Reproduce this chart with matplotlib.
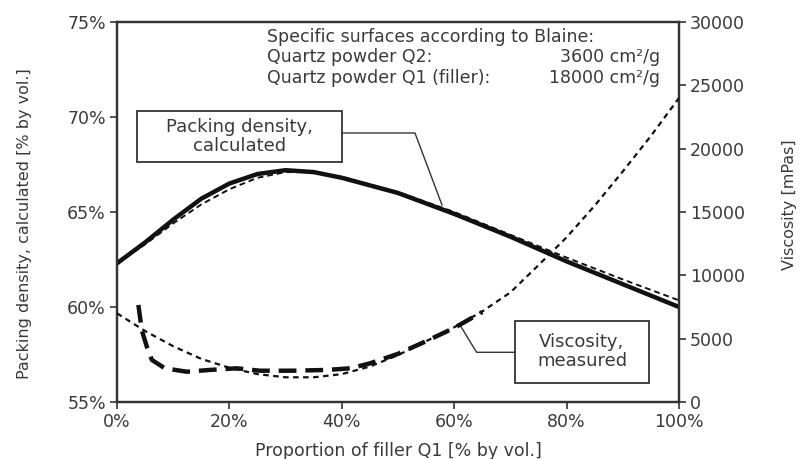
import matplotlib
matplotlib.use("Agg")
import matplotlib.pyplot as plt
from matplotlib.patches import Rectangle

plt.rcParams['font.family'] = ['DejaVu Sans']

# ---- data ----
pack_x = [0, 5, 10, 15, 20, 25, 30, 35, 40, 50, 60, 70, 80, 90, 100]
pack_calc = [62.3, 63.4, 64.6, 65.7, 66.5, 67.0, 67.2, 67.1, 66.8, 66.0, 64.9, 63.7, 62.4, 61.2, 60.0]
pack_fit_x = [0, 5, 10, 15, 20, 25, 30, 35, 40, 50, 60, 70, 80, 90, 100]
pack_fit = [62.3, 63.3, 64.4, 65.4, 66.2, 66.8, 67.1, 67.1, 66.85, 66.05, 65.0, 63.8, 62.6, 61.45, 60.35]

visc_fit_x = [0, 5, 10, 15, 20, 25, 30, 35, 40, 45, 50, 55, 60, 65, 70, 75, 80, 85, 90, 95, 100]
visc_fit = [7000, 5600, 4400, 3400, 2700, 2200, 1950, 1950, 2200, 2800, 3700, 4800, 5900, 7150,
            8650, 10800, 13000, 15500, 18200, 21000, 24000]

visc_meas_x = [3.8, 4.4, 5.3, 6.2, 8.5, 12.4, 16.5, 21.3, 25.4, 31.4, 37.3, 41.5, 45, 50, 55, 60, 65]
visc_meas = [7660, 5680, 4370, 3320, 2660, 2390, 2530, 2660, 2470, 2470, 2530, 2660, 3050, 3800,
             4800, 5850, 7100]

x_ticks = [0, 20, 40, 60, 80, 100]
x_tick_labels = ['0%', '20%', '40%', '60%', '80%', '100%']
yl_ticks = [55, 60, 65, 70, 75]
yl_tick_labels = ['55%', '60%', '65%', '70%', '75%']
yr_ticks = [0, 5000, 10000, 15000, 20000, 25000, 30000]
yr_tick_labels = ['0', '5000', '10000', '15000', '20000', '25000', '30000']

TXT = '#3a3a3a'
LINE = '#111111'
FS = 12.5
FT = 12.5

fig = plt.figure(figsize=(8.06, 4.59), dpi=100)
ax = fig.add_axes([0.1452, 0.1242, 0.6972, 0.8279])
ax2 = ax.twinx()

# packing density
ax.plot(pack_x, pack_calc, color=LINE, lw=3.2, solid_capstyle='round', zorder=3)
ax.plot(pack_fit_x, pack_fit, color=LINE, lw=1.4, ls=(0, (3, 2)), zorder=4)

# viscosity
ax2.plot(visc_fit_x, visc_fit, color=LINE, lw=1.6, ls=(0, (2.5, 2)), zorder=3)
ax2.plot(visc_meas_x, visc_meas, color=LINE, lw=3.2, ls=(0, (4, 2)), zorder=4)

ax.set_xlim(0, 100)
ax.set_ylim(55, 75)
ax2.set_ylim(0, 30000)

ax.set_xticks(x_ticks)
ax.set_xticklabels(x_tick_labels)
ax.set_yticks(yl_ticks)
ax.set_yticklabels(yl_tick_labels)
ax2.set_yticks(yr_ticks)
ax2.set_yticklabels(yr_tick_labels)

for a in (ax, ax2):
    for s in a.spines.values():
        s.set_color('#333333')
        s.set_linewidth(1.6)
    a.tick_params(colors='#333333', labelcolor=TXT, labelsize=FS, width=1.2, length=5,
                  direction='out', pad=3)

ax.set_xlabel('Proportion of filler Q1 [% by vol.]', fontsize=FT, color=TXT)
ax.xaxis.set_label_coords(0.5, -0.105)
ax.set_ylabel('Packing density, calculated [% by vol.]', fontsize=FS - 1, color=TXT)
ax2.set_ylabel('Viscosity [mPas]', fontsize=FS - 1, color=TXT)
ax.yaxis.set_label_coords(-0.151, 0.47)
ax2.yaxis.set_label_coords(1.183, 0.52)

# top-right text block
ax.text(0.2662, 0.9605, 'Specific surfaces according to Blaine:', transform=ax.transAxes,
        fontsize=FT, color=TXT, va='center', ha='left')
ax.text(0.2662, 0.9066, 'Quartz powder Q2:', transform=ax.transAxes,
        fontsize=FT, color=TXT, va='center', ha='left')
ax.text(0.2662, 0.8526, 'Quartz powder Q1 (filler):', transform=ax.transAxes,
        fontsize=FT, color=TXT, va='center', ha='left')
ax.text(0.9662, 0.9066, '3600 cm\u00b2/g', transform=ax.transAxes,
        fontsize=FT, color=TXT, va='center', ha='right')
ax.text(0.9662, 0.8526, '18000 cm\u00b2/g', transform=ax.transAxes,
        fontsize=FT, color=TXT, va='center', ha='right')

# annotation box: packing density
ax.add_patch(Rectangle((0.0356, 0.6316), 0.3648, 0.1342, transform=ax.transAxes,
                       fill=True, facecolor='white', edgecolor='#333333', lw=1.3, zorder=5))
ax.text(0.218, 0.698, 'Packing density,\ncalculated', transform=ax.transAxes, fontsize=13,
        color=TXT, ha='center', va='center', linespacing=1.1, zorder=6)
ax.plot([0.4004, 0.5302, 0.5783], [0.7079, 0.7079, 0.5184], transform=ax.transAxes,
        color='#333333', lw=1.0, zorder=5)

# annotation box: viscosity
ax.add_patch(Rectangle((0.7082, 0.0508), 0.2384, 0.1632, transform=ax.transAxes,
                       fill=True, facecolor='white', edgecolor='#333333', lw=1.3, zorder=5))
ax.text(0.8274, 0.1324, 'Viscosity,\nmeasured', transform=ax.transAxes, fontsize=13,
        color=TXT, ha='center', va='center', linespacing=1.1, zorder=6)
ax.plot([0.7082, 0.6398, 0.6103], [0.1308, 0.1308, 0.2026], transform=ax.transAxes,
        color='#333333', lw=1.0, zorder=5)

fig.savefig('out.png', dpi=100)
